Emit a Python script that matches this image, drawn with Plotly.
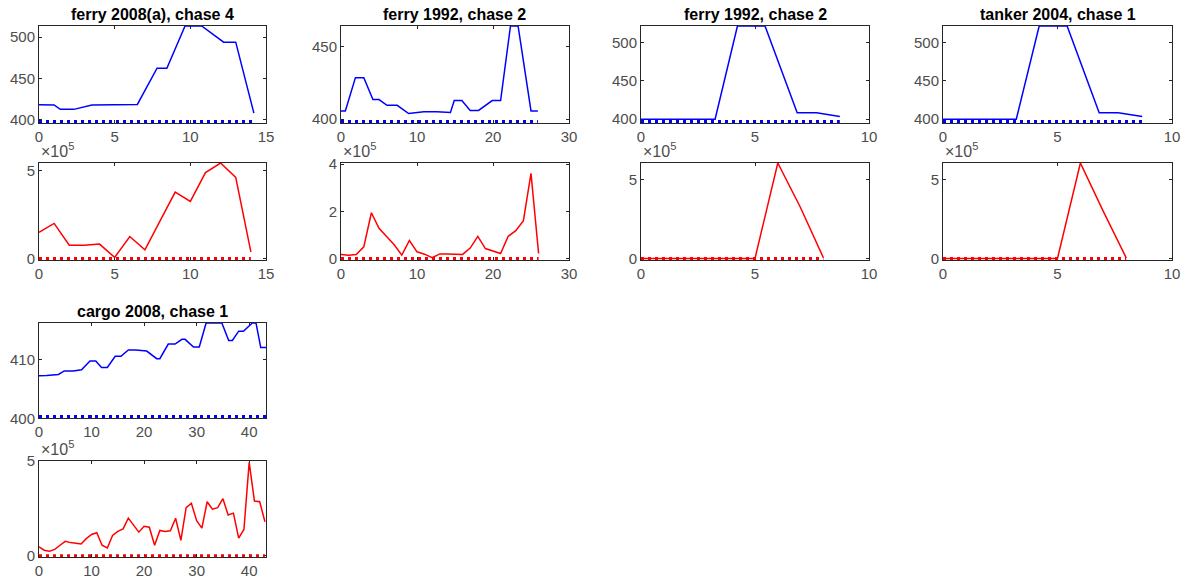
import plotly.graph_objects as go

# ---------------- data ----------------
titles = ["ferry 2008(a), chase 4", "ferry 1992, chase 2", "ferry 1992, chase 2",
          "tanker 2004, chase 1", "cargo 2008, chase 1"]

# panel 1: ferry 2008(a), chase 4
p1_t = [0, 1.0, 1.4, 2.3, 3.5, 4.7, 6.5, 7.8, 8.45, 9.65, 10.75, 12.2, 13.0, 14.2]
p1_level = [418.2, 418.0, 412.6, 412.6, 417.8, 418.0, 418.6, 462.5, 462.5, 513.6, 513.6, 494.0, 494.0, 408.0]
p1_k = list(range(15))
p1_power = [1.49, 2.0, 0.75, 0.75, 0.82, 0.06, 1.25, 0.49, 2.15, 3.79, 3.26, 4.9, 5.45, 4.63, 0.37]

# panel 2: ferry 1992, chase 2
p2_t = [0, 0.57, 1.9, 3.0, 4.2, 5.0, 6.05, 7.4, 8.9, 10.9, 12.6, 14.4, 14.9, 15.9,
        17.0, 18.1, 19.9, 21.0, 22.3, 23.3, 25.0, 25.9]
p2_level = [405.6, 405.6, 428.6, 428.6, 413.5, 413.5, 409.5, 409.5, 403.8, 405.0, 405.0,
            404.5, 412.8, 412.8, 406.0, 406.0, 412.8, 412.8, 464.2, 464.2, 405.6, 405.6]
p2_k = list(range(27))
p2_power = [0.17, 0.14, 0.17, 0.49, 1.94, 1.28, 0.93, 0.58, 0.14, 0.76, 0.28, 0.18, 0.03,
            0.19, 0.19, 0.18, 0.17, 0.44, 0.94, 0.42, 0.32, 0.21, 0.94, 1.18, 1.6, 3.61, 0.21]

# panel 3: ferry 1992, chase 2
p3_t = [0, 3.25, 4.23, 5.44, 6.85, 7.7, 8.72]
p3_level = [400.0, 400.0, 521.2, 521.2, 408.5, 408.5, 403.4]
p3_k = list(range(9))
p3_power = [0, 0, 0, 0, 0, 0, 6.08, 3.23, 0.04]

# panel 4: tanker 2004, chase 1
p4_t = [0, 3.2, 4.2, 5.42, 6.82, 7.65, 8.7]
p4_level = [400.0, 400.0, 521.2, 521.2, 408.5, 408.5, 403.4]
p4_k = list(range(9))
p4_power = [0, 0, 0, 0, 0, 0, 6.08, 3.0, 0.04]

# panel 5: cargo 2008, chase 1
p5_t = [0, 1.46, 3.7, 4.8, 6.5, 8.1, 9.7, 10.8, 11.9, 13.0, 14.5, 15.6, 17.0, 18.4, 20.5,
        22.4, 23.0, 24.6, 25.9, 27.2, 27.8, 29.4, 30.5, 31.8, 34.8, 36.1, 36.8, 38.0,
        38.9, 40.6, 41.3, 42.2, 43.2]
p5_level = [407.26, 407.3, 407.5, 408.1, 408.1, 408.3, 409.8, 409.8, 408.7, 408.7, 410.6,
            410.6, 411.7, 411.7, 411.5, 410.2, 410.2, 412.7, 412.7, 413.5, 413.5, 412.2,
            412.2, 416.3, 416.3, 413.3, 413.3, 414.9, 414.9, 416.3, 416.3, 412.1, 412.1]
p5_k = list(range(44))
p5_power = [0.47, 0.29, 0.24, 0.33, 0.55, 0.76, 0.69, 0.67, 0.62, 0.9, 1.12, 1.21, 0.55,
            0.41, 1.07, 1.28, 1.41, 1.98, 1.62, 1.24, 1.55, 1.5, 0.55, 1.33, 1.28, 1.31,
            1.97, 0.81, 2.53, 2.76, 1.84, 1.45, 2.84, 2.45, 2.53, 3.0, 2.14, 2.24, 0.93,
            1.38, 4.91, 2.88, 2.84, 1.79]

# dotted reference levels (blue panel) and zero level (red panel)
level_floor = [398.0, 398.4, 397.1, 397.1, 400.3]
power_floor = [0, 0, 0, 0, 0]

# axis limits and ticks
x_limits = [[0, 15], [0, 30], [0, 10], [0, 10], [0, 43.2]]
x_ticks = [[0, 5, 10, 15], [0, 10, 20, 30], [0, 5, 10], [0, 5, 10], [0, 10, 20, 30, 40]]
level_limits = [[398.0, 513.6], [398.4, 464.2], [397.1, 521.2], [397.1, 521.2], [400, 416.3]]
level_ticks = [[400, 450, 500], [400, 450], [400, 450, 500], [400, 450, 500], [400, 410]]
power_limits = [[0, 5.45], [0, 4.05], [0, 6.08], [0, 6.08], [0, 5.0]]
power_ticks = [[0, 5], [0, 2, 4], [0, 5], [0, 5], [0, 5]]

series_t = [p1_t, p2_t, p3_t, p4_t, p5_t]
series_level = [p1_level, p2_level, p3_level, p4_level, p5_level]
series_k = [p1_k, p2_k, p3_k, p4_k, p5_k]
series_power = [p1_power, p2_power, p3_power, p4_power, p5_power]

# ---------------- layout geometry (pixels) ----------------
W, H = 1185, 582
cols_px = [(39, 266), (341, 569), (641, 869), (943, 1172)]
rows_px = [((26, 123), (163, 260)), ((323, 418.3), (460.7, 557.3))]
panel_pos = [(0, 0), (0, 1), (0, 2), (0, 3), (1, 0)]

BLUE = "#0000ff"
RED = "#ff0000"
AX = "#262626"
TICKC = "#4d4d4d"
FONT = "Liberation Sans, Arial, Helvetica, sans-serif"
DOT_HALF = 1.6  # half thickness of the dotted reference line, px

fig = go.Figure()
layout = dict(
    width=W, height=H, margin=dict(l=0, r=0, t=0, b=0, autoexpand=False),
    paper_bgcolor="white", plot_bgcolor="white", showlegend=False,
    font=dict(family=FONT, size=15, color=TICKC),
)
annotations = []


def yf(px):
    return 1 - px / H


for i in range(5):
    r, c = panel_pos[i]
    x0, x1 = cols_px[c]
    specs = [
        (series_t[i], series_level[i], level_floor[i], BLUE, rows_px[r][0],
         level_limits[i], level_ticks[i]),
        (series_k[i], series_power[i], power_floor[i], RED, rows_px[r][1],
         power_limits[i], power_ticks[i]),
    ]
    for j, (sx, sy, fl, color, (top, bot), ylim, yt) in enumerate(specs):
        n = 2 * i + j + 1
        xs = "" if n == 1 else str(n)
        xa, ya = "x" + xs, "y" + xs
        # keep the thick dotted line fully inside the plot clip area
        hpx = bot - top
        upp = (ylim[1] - ylim[0]) / hpx
        need = DOT_HALF - (fl - ylim[0]) / upp
        lo = ylim[0] - max(0.0, need) * upp
        fig.add_trace(go.Scatter(
            x=sx, y=sy, mode="lines", line=dict(color=color, width=1.5),
            xaxis=xa, yaxis=ya, hoverinfo="skip"))
        fig.add_trace(go.Scatter(
            x=[sx[0], sx[-1]], y=[fl, fl], mode="lines",
            line=dict(color=color, width=3, dash="3px,4px"),
            xaxis=xa, yaxis=ya, hoverinfo="skip"))
        common = dict(showline=True, linecolor=AX, linewidth=1, mirror="allticks",
                      ticks="inside", ticklen=3, tickcolor=AX, tickwidth=1,
                      showgrid=False, zeroline=False, fixedrange=True,
                      layer="below traces",
                      tickfont=dict(family=FONT, size=15, color=TICKC))
        layout["xaxis" + xs] = dict(common, domain=[x0 / W, x1 / W], range=x_limits[i],
                                    tickvals=x_ticks[i], anchor=ya)
        layout["yaxis" + xs] = dict(common, domain=[yf(bot), yf(top)], range=[lo, ylim[1]],
                                    tickvals=yt, anchor=xa)
        if j == 0:
            annotations.append(dict(
                text="<b>" + titles[i] + "</b>", xref="paper", yref="paper",
                x=(x0 + x1) / 2 / W, y=yf(top - 11.5), xanchor="center", yanchor="middle",
                showarrow=False, font=dict(family=FONT, size=16, color="#000000")))
        else:
            annotations.append(dict(
                text="×10<sup>5</sup>", xref="paper", yref="paper",
                x=x0 / W, y=yf(top - 1), xanchor="left", yanchor="bottom",
                showarrow=False, font=dict(family=FONT, size=16, color=TICKC)))

layout["annotations"] = annotations
fig.update_layout(**layout)
fig.write_html("out.html")
